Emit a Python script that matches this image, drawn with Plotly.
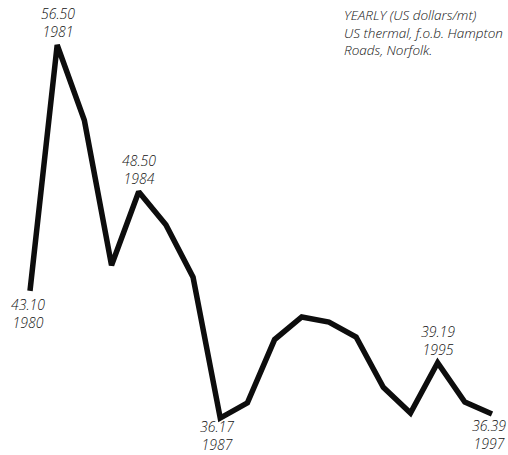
import plotly.graph_objects as go

years = list(range(1980, 1998))
prices = [43.10, 56.50, 52.40, 44.50, 48.50, 46.70, 43.85, 36.17, 37.00,
          40.45, 41.68, 41.40, 40.59, 37.85, 36.45, 39.19, 37.05, 36.39]
labeled_years = [1980, 1981, 1984, 1987, 1995, 1997]
note_lines = ["YEARLY (US dollars/mt)", "US thermal, f.o.b. Hampton", "Roads, Norfolk."]

# placement of value labels (style): side, x shift, y shift
label_place = {1980: ("below", -2, -2), 1981: ("above", 1, 2), 1984: ("above", 0, 2),
               1987: ("below", -3, 3), 1995: ("above", 0, 2), 1997: ("below", -3, 0)}

FONT = "Open Sans"

fig = go.Figure()
fig.add_trace(go.Scatter(
    x=years, y=prices, mode="lines",
    line=dict(color="#0d0d0d", width=5.5),
    hoverinfo="skip", showlegend=False,
))

annotations = []
for yr in labeled_years:
    v = prices[years.index(yr)]
    where, xs, ys = label_place[yr]
    annotations.append(dict(
        x=yr, y=v, xref="x", yref="y", showarrow=False,
        text=f"{v:.2f}<br>{yr}",
        yanchor="bottom" if where == "above" else "top",
        yshift=ys,
        xshift=xs,
        align="center",
        font=dict(family=FONT, size=14, color="#111", style="italic", weight=300),
    ))

annotations.append(dict(
    x=342 / 508, y=1 - 4 / 455, xref="paper", yref="paper", showarrow=False,
    text="<br>".join(note_lines), align="left",
    xanchor="left", yanchor="top",
    font=dict(family=FONT, size=13.5, color="#111", style="italic", weight=300),
))

fig.update_layout(
    width=508, height=455,
    margin=dict(l=0, r=0, t=0, b=0),
    paper_bgcolor="white", plot_bgcolor="white",
    xaxis=dict(range=[1978.896, 1997.589], visible=False, fixedrange=True),
    yaxis=dict(range=[34.16, 58.95], visible=False, fixedrange=True),
    annotations=annotations,
)

fig.write_html("out.html", config={"displayModeBar": False, "staticPlot": True},
               post_script="document.body.style.margin='0';document.body.style.overflow='hidden';")
